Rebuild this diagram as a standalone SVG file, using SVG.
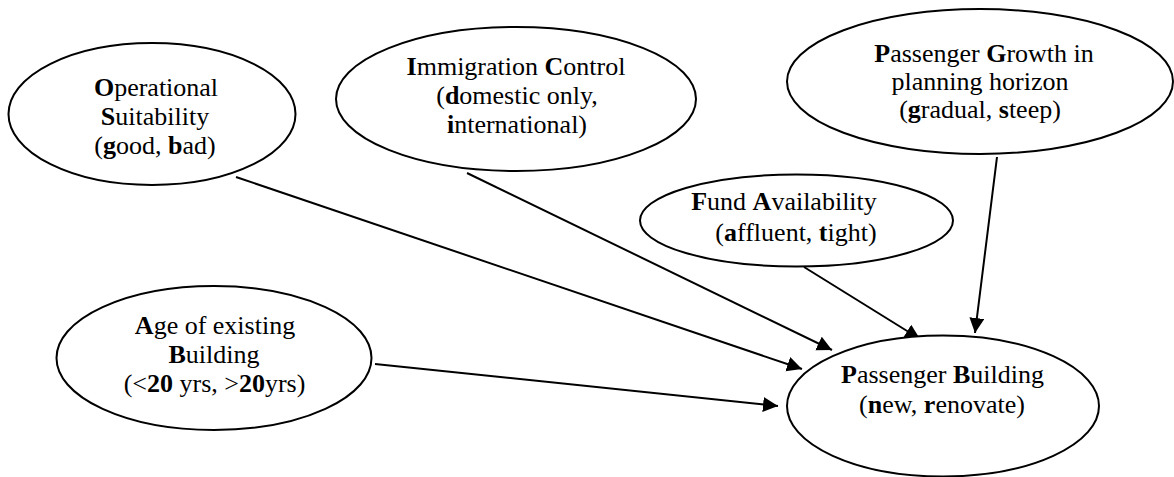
<svg xmlns="http://www.w3.org/2000/svg" width="1174" height="477" viewBox="0 0 1174 477">
<style>
  .node ellipse { fill: #fff; stroke: #000; stroke-width: 2; }
  text { font-family: "Liberation Serif", "Times New Roman", serif; font-size: 26px; fill: #000; text-anchor: middle; }
  .b { font-weight: bold; }
  .edges line { stroke: #000; stroke-width: 2; marker-end: url(#arrow); }
</style>
<defs>
  <marker id="arrow" markerUnits="userSpaceOnUse" markerWidth="16" markerHeight="16" refX="15" refY="7.5" orient="auto">
    <path d="M0,0 L15,7.5 L0,15 z" fill="#000"/>
  </marker>
</defs>
<rect width="1174" height="477" fill="#fff"/>
<g class="edges">
  <line x1="236" y1="177" x2="802" y2="369"/>
  <line x1="467" y1="173" x2="832" y2="350"/>
  <line x1="804" y1="267" x2="920" y2="339"/>
  <line x1="997" y1="157" x2="975" y2="333"/>
  <line x1="375" y1="364" x2="778" y2="406"/>
</g>
<g id="operational" class="node">
  <ellipse cx="152" cy="114" rx="143.5" ry="71"/>
  <text x="156" y="96"><tspan class="b">O</tspan>perational</text>
  <text x="155" y="125"><tspan class="b">S</tspan>uitability</text>
  <text x="155" y="154">(<tspan class="b">g</tspan>ood, <tspan class="b">b</tspan>ad)</text>
</g>
<g id="immigration" class="node">
  <ellipse cx="516" cy="99" rx="180" ry="72"/>
  <text x="516" y="75"><tspan class="b">I</tspan>mmigration <tspan class="b">C</tspan>ontrol</text>
  <text x="517" y="104">(<tspan class="b">d</tspan>omestic only,</text>
  <text x="517" y="133"><tspan class="b">i</tspan>nternational)</text>
</g>
<g id="growth" class="node">
  <ellipse cx="980" cy="81.5" rx="193" ry="72.5"/>
  <text x="984" y="62"><tspan class="b">P</tspan>assenger <tspan class="b">G</tspan>rowth in</text>
  <text x="980" y="90">planning horizon</text>
  <text x="980" y="118">(<tspan class="b">g</tspan>radual, <tspan class="b">s</tspan>teep)</text>
</g>
<g id="fund" class="node">
  <ellipse cx="796.5" cy="220.5" rx="156.5" ry="46"/>
  <text x="784" y="210"><tspan class="b">F</tspan>und <tspan class="b">A</tspan>vailability</text>
  <text x="796" y="241">(<tspan class="b">a</tspan>ffluent, <tspan class="b">t</tspan>ight)</text>
</g>
<g id="age" class="node">
  <ellipse cx="214" cy="358" rx="157.5" ry="72"/>
  <text x="215" y="334"><tspan class="b">A</tspan>ge of existing</text>
  <text x="214" y="363"><tspan class="b">B</tspan>uilding</text>
  <text x="214.5" y="392">(&lt;<tspan class="b">20</tspan> yrs, &gt;<tspan class="b">20</tspan>yrs)</text>
</g>
<g id="passenger-building" class="node">
  <ellipse cx="943" cy="406" rx="156" ry="70.5"/>
  <text x="942.5" y="383"><tspan class="b">P</tspan>assenger <tspan class="b">B</tspan>uilding</text>
  <text x="942" y="413">(<tspan class="b">n</tspan>ew, <tspan class="b">r</tspan>enovate)</text>
</g>
</svg>
